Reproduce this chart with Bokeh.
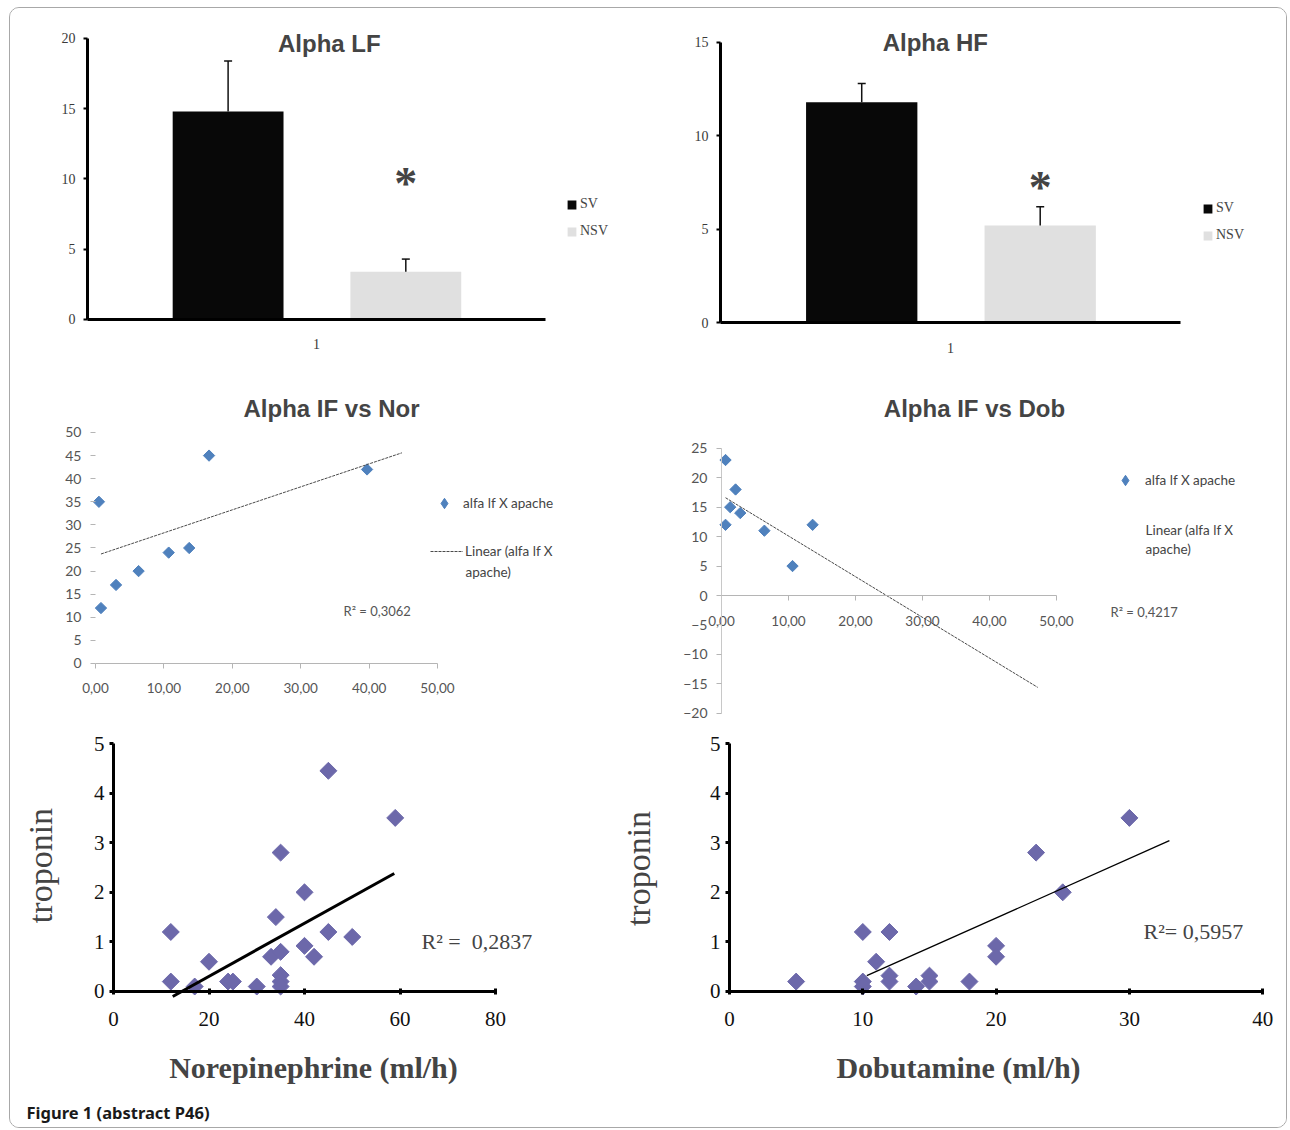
import math
from bokeh.plotting import figure
from bokeh.models import (Range1d, FixedTicker, Label, Legend, LegendItem,
                          Whisker, TeeHead, ColumnDataSource, Spacer)
from bokeh.layouts import row, column
from bokeh.embed import file_html
from bokeh.resources import INLINE

# ------------------------------------------------------------------ data
bar_series = ["SV", "NSV"]
bar_colors = ["#080808", "#e0e0e0"]
bar_category = ["1"]

lf_title = "Alpha LF"
lf_mean = [14.8, 3.4]
lf_err = [3.6, 0.9]
lf_yticks = [0, 5, 10, 15, 20]

hf_title = "Alpha HF"
hf_mean = [11.8, 5.2]
hf_err = [1.0, 1.0]
hf_yticks = [0, 5, 10, 15]

star_text = "*"

scatter_series = "alfa lf X apache"
fit_label_1 = "Linear (alfa lf X"
fit_label_2 = "apache)"

nor_title = "Alpha IF vs Nor"
nor_x = [0.5, 0.8, 3.0, 6.3, 10.7, 13.7, 16.6, 39.7]
nor_y = [35, 12, 17, 20, 24, 25, 45, 42]
nor_fit_x = [0.8, 44.8]
nor_fit_y = [23.7, 45.6]
nor_r2 = "R² = 0,3062"
nor_xticks = [0, 10, 20, 30, 40, 50]
nor_xlabels = ["0,00", "10,00", "20,00", "30,00", "40,00", "50,00"]
nor_yticks = [0, 5, 10, 15, 20, 25, 30, 35, 40, 45, 50]

dob_title = "Alpha IF vs Dob"
dob_x = [0.6, 2.1, 1.3, 2.8, 0.6, 6.4, 10.6, 13.6]
dob_y = [23, 18, 15, 14, 12, 11, 5, 12]
dob_fit_x = [0.6, 47.2]
dob_fit_y = [16.6, -15.6]
dob_r2 = "R² = 0,4217"
dob_xticks = [0, 10, 20, 30, 40, 50]
dob_xlabels = ["0,00", "10,00", "20,00", "30,00", "40,00", "50,00"]
dob_yticks = [-20, -15, -10, -5, 0, 5, 10, 15, 20, 25]

trop_label = "troponin"
trop_yticks = [0, 1, 2, 3, 4, 5]

ne_xlabel = "Norepinephrine (ml/h)"
ne_x = [12, 12, 17, 20, 24, 25, 30, 33, 34, 35, 35, 35, 35, 35, 40, 40, 42, 45, 45, 50, 59]
ne_y = [1.2, 0.2, 0.1, 0.6, 0.2, 0.2, 0.1, 0.7, 1.5, 2.8, 0.8, 0.33, 0.2, 0.1, 2.0, 0.92, 0.7, 1.2, 4.45, 1.1, 3.5]
ne_fit_x = [12.4, 58.8]
ne_fit_y = [-0.1, 2.38]
ne_r2 = "R² =\u00a0 0,2837"
ne_xticks = [0, 20, 40, 60, 80]

db_xlabel = "Dobutamine (ml/h)"
db_x = [5, 10, 10, 10, 11, 12, 12, 12, 14, 15, 15, 18, 20, 20, 23, 25, 30]
db_y = [0.2, 1.2, 0.2, 0.1, 0.6, 1.2, 0.32, 0.2, 0.1, 0.32, 0.2, 0.2, 0.92, 0.7, 2.8, 2.0, 3.5]
db_fit_x = [10.3, 33.0]
db_fit_y = [0.32, 3.04]
db_r2 = "R²= 0,5957"
db_xticks = [0, 10, 20, 30, 40]

caption = "Figure 1 (abstract P46)"

# ------------------------------------------------------------------ style
SERIF = "Liberation Serif"
SANS = "Liberation Sans"
XLS = "Lato"
BLUE = "#4f81bd"
PURPLE = "#6c68aa"
LIGHT = "#b5b5b5"
DIAMOND = math.pi / 4


def make_fig(width, height, xr, yr):
    p = figure(width=width, height=height, title=None,
               x_range=Range1d(*xr), y_range=Range1d(*yr),
               output_backend="svg", toolbar_location=None, tools="",
               min_border=0)
    p.outline_line_color = None
    p.xgrid.visible = False
    p.ygrid.visible = False
    p.background_fill_color = "white"
    p.border_fill_color = "white"
    for ax in (p.xaxis[0], p.yaxis[0]):
        ax.fixed_location = 0
        ax.minor_tick_line_color = None
        ax.major_tick_in = 0
    return p


def style_labels(ax, font, size, color, standoff):
    ax.major_label_text_font = font
    ax.major_label_text_font_size = size
    ax.major_label_text_color = color
    ax.major_label_standoff = standoff


def plain_legend(items, loc, gw, gh, standoff, font, size, color, label_h=18, spacing=9):
    lg = Legend(items=items, location=loc)
    lg.glyph_width = gw
    lg.glyph_height = gh
    lg.label_height = label_h
    lg.label_standoff = standoff
    lg.padding = 0
    lg.margin = 0
    lg.spacing = spacing
    lg.border_line_color = None
    lg.background_fill_alpha = 0
    lg.label_text_font = font
    lg.label_text_font_size = size
    lg.label_text_color = color
    return lg


# ------------------------------------------------------------------ bar panels
def bar_panel(title, means, errs, yticks, width, xr, yr, title_xy, star_y, legend_loc):
    p = make_fig(width, 357, xr, yr)
    offsets = [-0.193, 0.195]
    xs = [0.5 + o for o in offsets]
    src = ColumnDataSource(dict(
        x=xs, top=means, upper=[m + e for m, e in zip(means, errs)],
        color=bar_colors, label=bar_series))
    bars = p.vbar(x="x", top="top", bottom=0, width=0.242, fill_color="color",
                  line_color=None, source=src)
    p.add_layout(Whisker(base="x", lower="top", upper="upper", source=src,
                         line_color="#111111", line_width=1.5, level="overlay",
                         upper_head=TeeHead(size=8, line_color="#111111", line_width=1.5),
                         lower_head=None))
    yax = p.yaxis[0]
    yax.ticker = FixedTicker(ticks=yticks)
    yax.bounds = (yticks[0], yticks[-1])
    yax.axis_line_width = 3
    yax.axis_line_color = "black"
    yax.major_tick_out = 4
    yax.major_tick_line_width = 2
    style_labels(yax, SERIF, "14px", "#3a3a3a", 8)
    xax = p.xaxis[0]
    xax.ticker = FixedTicker(ticks=[0.5])
    xax.major_label_overrides = {0.5: bar_category[0]}
    xax.bounds = (0, 1)
    xax.axis_line_width = 3
    xax.axis_line_color = "black"
    xax.major_tick_line_color = None
    style_labels(xax, SERIF, "14px", "#3a3a3a", 14)

    items = [LegendItem(label=s, renderers=[bars], index=i) for i, s in enumerate(bar_series)]
    p.add_layout(plain_legend(items, legend_loc, 11, 11, 3, SERIF, "14px", "#444444"))

    p.add_layout(Label(x=title_xy[0], y=title_xy[1], text=title, text_font=SANS,
                       text_font_style="bold", text_font_size="24px",
                       text_align="center", text_baseline="middle"))
    p.add_layout(Label(x=xs[1], y=star_y, text=star_text, text_font=SERIF,
                       text_font_style="bold", text_font_size="46px",
                       text_align="center", text_baseline="middle"))
    return p


p1 = bar_panel(lf_title, lf_mean, lf_err, lf_yticks, 610,
               (-0.16812, 1.16376), (-3.274, 22.135), (0.528, 19.64), 9.68, (556, 125))
p2 = bar_panel(hf_title, hf_mean, hf_err, hf_yticks, 666,
               (-0.21739, 1.23043), (-2.303, 16.818), (0.467, 15.0), 7.23, (582, 121))


# ------------------------------------------------------------------ alpha IF panels
def corr_panel(width, xr, yr, xs_, ys_, fx, fy, xticks, xlabels, yticks, ybounds, yline,
               title, title_xy, r2, r2_xy, legA_loc, legA_standoff, legB_loc,
               cont_xy, first_xy):
    p = make_fig(width, 360, xr, yr)
    # legend proxy (Bokeh draws the legend marker unrotated); hidden under the points
    proxy = p.scatter(xs_, ys_, marker="diamond", size=6,
                      fill_color=BLUE, line_color=BLUE)
    p.scatter(xs_, ys_, marker="square", angle=DIAMOND, size=8,
              fill_color=BLUE, line_color=BLUE)
    fit = p.line(fx, fy, line_color="#4a4a4a", line_width=1, line_dash="3 1")

    xax = p.xaxis[0]
    xax.ticker = FixedTicker(ticks=xticks)
    xax.major_label_overrides = {t: l for t, l in zip(xticks, xlabels)}
    xax.bounds = (xticks[0], xticks[-1])
    xax.axis_line_color = LIGHT
    xax.major_tick_line_color = LIGHT
    xax.major_tick_out = 5
    style_labels(xax, XLS, "13.5px", "#555555", 15)

    yax = p.yaxis[0]
    yax.ticker = FixedTicker(ticks=yticks)
    yax.bounds = ybounds
    yax.axis_line_color = yline
    yax.major_tick_line_color = LIGHT
    yax.major_tick_out = 5
    style_labels(yax, XLS, "14px", "#555555", 9)

    p.add_layout(plain_legend([LegendItem(label=scatter_series, renderers=[proxy])],
                              legA_loc, 26, 26, legA_standoff, XLS, "13.5px", "#444444"))
    if legB_loc is not None:
        p.add_layout(plain_legend([LegendItem(label=fit_label_1, renderers=[fit])],
                                  legB_loc, 33, 18, 2, XLS, "13.5px", "#444444"))
    else:
        p.add_layout(Label(x=first_xy[0], y=first_xy[1], text=fit_label_1,
                           text_font=XLS, text_font_size="13.5px", text_color="#444444",
                           text_baseline="middle"))
    p.add_layout(Label(x=cont_xy[0], y=cont_xy[1], text=fit_label_2, text_font=XLS,
                       text_font_size="13.5px", text_color="#444444",
                       text_baseline="middle"))
    p.add_layout(Label(x=r2_xy[0], y=r2_xy[1], text=r2, text_font=XLS,
                       text_font_size="13px", text_color="#555555",
                       text_baseline="middle"))
    p.add_layout(Label(x=title_xy[0], y=title_xy[1], text=title, text_font=SANS,
                       text_font_style="bold", text_font_size="24px",
                       text_align="center", text_baseline="middle"))
    return p


p3 = corr_panel(610, (-12.427, 76.754), (-13.420, 64.502),
                nor_x, nor_y, nor_fit_x, nor_fit_y, nor_xticks, nor_xlabels, nor_yticks,
                (0, 50), None, nor_title, (34.5, 55.19), nor_r2, (36.26, 11.26),
                (421, 209), 6, (420, 165), (54.09, 19.70), None)
p4 = corr_panel(666, (-15.075, 84.328), (-22.071, 39.049),
                dob_x, dob_y, dob_fit_x, dob_fit_y, dob_xticks, dob_xlabels, dob_yticks,
                (-20, 25), "#c8c8c8", dob_title, (37.76, 31.75), dob_r2, (58.06, -2.72),
                (492, 232), 7, None, (63.28, 7.81), (63.28, 11.04))


# ------------------------------------------------------------------ troponin panels
def trop_panel(width, xr, xs_, ys_, fx, fy, xticks, xlabel, xlabel_xy,
               ylabel_xy, r2, r2_xy, fit_w):
    p = make_fig(width, 402, xr, (-2.742, 5.363))
    p.scatter(xs_, ys_, marker="square", angle=DIAMOND, size=12,
              fill_color=PURPLE, line_color=PURPLE)
    p.line(fx, fy, line_color="black", line_width=fit_w)

    xax = p.xaxis[0]
    xax.ticker = FixedTicker(ticks=xticks)
    xax.bounds = (xticks[0], xticks[-1])
    xax.axis_line_width = 3
    xax.axis_line_color = "black"
    xax.major_tick_out = 3
    xax.major_tick_in = 3
    xax.major_tick_line_width = 3
    style_labels(xax, SERIF, "21px", "#111111", 18)

    yax = p.yaxis[0]
    yax.ticker = FixedTicker(ticks=trop_yticks)
    yax.bounds = (trop_yticks[0], trop_yticks[-1])
    yax.axis_line_width = 3
    yax.axis_line_color = "black"
    yax.major_tick_out = 4
    yax.major_tick_line_width = 3
    style_labels(yax, SERIF, "21px", "#111111", 5)

    p.add_layout(Label(x=xlabel_xy[0], y=xlabel_xy[1], text=xlabel, text_font=SERIF,
                       text_font_style="bold", text_font_size="30px",
                       text_align="center", text_baseline="middle"))
    p.add_layout(Label(x=ylabel_xy[0], y=ylabel_xy[1], text=trop_label, text_font=SERIF,
                       text_font_size="34px", angle=math.pi / 2,
                       text_align="center", text_baseline="middle"))
    p.add_layout(Label(x=r2_xy[0], y=r2_xy[1], text=r2, text_font=SERIF,
                       text_font_size="22px", text_baseline="middle"))
    return p


p5 = trop_panel(610, (-21.571, 106.178), ne_x, ne_y, ne_fit_x, ne_fit_y,
                ne_xticks, ne_xlabel, (41.88, -1.532), (-15.3, 2.54), ne_r2, (64.5, 1.01), 3)
p5.add_layout(Label(x=-18.22, y=-2.44, text=caption, text_font="Noto Sans",
                    text_font_style="bold", text_font_size="16.5px",
                    text_color="#1a1a1a", text_baseline="middle"))
p6 = trop_panel(666, (-8.177, 41.785), db_x, db_y, db_fit_x, db_fit_y,
                db_xticks, db_xlabel, (17.18, -1.532), (-6.85, 2.48), db_r2, (31.06, 1.21), 1.3)

boxed = column(row(p1, p2), row(p3, p4), row(p5, p6),
               styles={"border": "1px solid #a8a8a8", "border-radius": "10px",
                       "overflow": "hidden", "background-color": "white"})
root = column(Spacer(width=10, height=7), row(Spacer(width=9, height=10), boxed))

open("out.html", "w").write(file_html(root, INLINE, title="Figure 1 (abstract P46)"))
